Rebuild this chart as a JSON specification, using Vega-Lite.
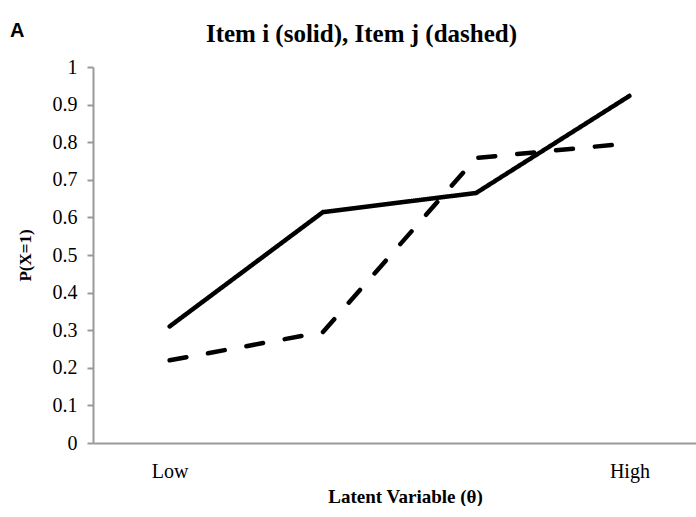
{
  "$schema": "https://vega.github.io/schema/vega-lite/v6.json",
  "background": "white",
  "padding": {"left": 10, "top": 21, "right": 0, "bottom": 0},
  "title": {"text": "A", "anchor": "start", "frame": "bounds", "font": "Liberation Sans", "fontSize": 20, "fontWeight": "bold", "color": "black", "offset": 0, "dx": -6, "dy": 19},
  "config": {"view": {"stroke": null}, "concat": {"spacing": 0}},
  "vconcat": [
    {
      "width": 613,
      "height": 376,
      "title": {"text": "Item i (solid), Item j (dashed)", "font": "Liberation Serif", "fontSize": 25, "fontWeight": "bold", "color": "black", "anchor": "middle", "dx": -38, "offset": 10},
      "data": {"values": [
        {"theta": 1, "p": 0.31, "item": "i"},
        {"theta": 2, "p": 0.614, "item": "i"},
        {"theta": 3, "p": 0.665, "item": "i"},
        {"theta": 4, "p": 0.923, "item": "i"},
        {"theta": 1, "p": 0.22, "item": "j"},
        {"theta": 2, "p": 0.295, "item": "j"},
        {"theta": 3, "p": 0.758, "item": "j"},
        {"theta": 4, "p": 0.797, "item": "j"}
      ]},
      "mark": {"type": "line", "color": "black", "strokeWidth": 4.5, "strokeCap": "round", "strokeJoin": "miter"},
      "encoding": {
        "x": {"field": "theta", "type": "quantitative", "scale": {"domain": [0.5, 4.5], "nice": false, "zero": false},
          "axis": {"values": [1, 4], "labelExpr": "datum.value == 1 ? 'Low' : 'High'", "ticks": false, "grid": false, "domainColor": "#9a9a9a", "domainWidth": 2, "labelFont": "Liberation Serif", "labelFontSize": 20, "labelColor": "black", "labelPadding": 18, "title": "Latent Variable (θ)", "titleFont": "Liberation Serif", "titleFontSize": 19, "titleFontWeight": "bold", "titleColor": "black", "titlePadding": 6, "titleX": 312}},
        "y": {"field": "p", "type": "quantitative", "scale": {"domain": [0, 1], "nice": false},
          "axis": {"values": [0, 0.1, 0.2, 0.3, 0.4, 0.5, 0.6, 0.7, 0.8, 0.9, 1], "format": ".1~f", "grid": false, "domainColor": "#9a9a9a", "domainWidth": 2, "tickColor": "#9a9a9a", "tickWidth": 2, "tickSize": 6, "labelFont": "Liberation Serif", "labelFontSize": 20, "labelColor": "black", "labelPadding": 10, "title": "P(X=1)", "titleFont": "Liberation Serif", "titleFontSize": 17, "titleFontWeight": "bold", "titleColor": "black", "titlePadding": 18}},
        "strokeDash": {"field": "item", "type": "nominal", "scale": {"domain": ["i", "j"], "range": [[1, 0], [17, 22]]}, "legend": null}
      }
    }
  ]
}
